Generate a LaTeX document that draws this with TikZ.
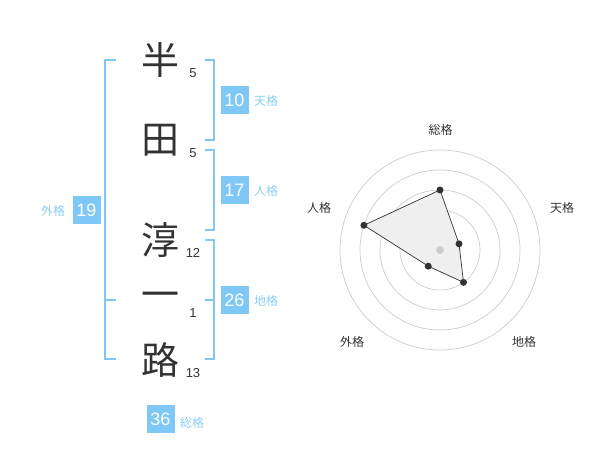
\documentclass[tikz,border=0pt]{standalone}
\usepackage{fontspec}
\usetikzlibrary{calc}
\setmainfont{Liberation Sans}
\newfontfamily\cjk{Noto Sans CJK JP}
\definecolor{brk}{HTML}{7FC7F7}
\definecolor{lbl}{HTML}{8ACFF5}
\definecolor{ink}{HTML}{333333}
\definecolor{grid}{HTML}{CCCCCC}
\definecolor{area}{HTML}{EFEFEF}
\begin{document}
\begin{tikzpicture}[x=1pt,y=-1pt,
 kanji/.style={font=\cjk\fontsize{38}{38}\selectfont, text=ink, inner sep=0},
 strokes/.style={font=\fontsize{13}{13}\selectfont, text=ink, inner sep=0},
 valbox/.style={fill=brk, text=white, minimum size=28pt, inner sep=0, font=\fontsize{18}{18}\selectfont},
 kaku/.style={font=\cjk\fontsize{12}{12}\selectfont, text=lbl, inner sep=0},
 bracket/.style={draw=brk, line width=2pt, line join=miter},
 ring/.style={draw=grid, line width=0.7pt},
 axislbl/.style={font=\cjk\fontsize{12}{12}\selectfont, text=ink, inner sep=0},
 dot/.style={circle, fill=ink, minimum size=7pt, inner sep=0},
 cdot/.style={circle, fill=grid, minimum size=8pt, inner sep=0},
 poly/.style={draw=ink, line width=0.7pt, fill=area},
]
\useasboundingbox (0,0) rectangle (600,470);
% name characters
\node[kanji] (c1) at (160,60) {半};
\node[kanji] (c2) at (160,140) {田};
\node[kanji] (c3) at (160,240) {淳};
\node[kanji] (c4) at (160,300) {一};
\node[kanji] (c5) at (160,360) {路};
\node[strokes] (s1) at (193,73) {5};
\node[strokes] (s2) at (193,153) {5};
\node[strokes] (s3) at (193,253) {12};
\node[strokes] (s4) at (193,313) {1};
\node[strokes] (s5) at (193,373) {13};
% brackets
\draw[bracket] (116,60) -- (105,60) -- (105,359) -- (116,359);
\draw[bracket] (105,300) -- (116,300);
\draw[bracket] (205,60) -- (214,60) -- (214,140) -- (205,140);
\draw[bracket] (205,150) -- (214,150) -- (214,230) -- (205,230);
\draw[bracket] (205,240) -- (214,240) -- (214,359) -- (205,359);
\draw[bracket] (205,300) -- (214,300);
% values
\node[valbox] (ten) at (234.5,100) {10};
\node[kaku] (tenl) at (266,101) {天格};
\node[valbox] (jin) at (234.5,190) {17};
\node[kaku] (jinl) at (266,191) {人格};
\node[valbox] (chi) at (234.5,300) {26};
\node[kaku] (chil) at (266,301) {地格};
\node[valbox] (gai) at (86.5,210) {19};
\node[kaku] (gail) at (53,211) {外格};
\node[valbox] (sou) at (160.5,419) {36};
\node[kaku] (soul) at (192,423) {総格};
% radar
\coordinate (o) at (440,250);
\foreach \r in {20,40,60,80,100} \draw[ring] (o) circle[radius=\r];
\coordinate (pS) at ($(o)+(-90:60)$);
\coordinate (pT) at ($(o)+(-18:20)$);
\coordinate (pC) at ($(o)+(54:40)$);
\coordinate (pG) at ($(o)+(126:20)$);
\coordinate (pJ) at ($(o)+(198:80)$);
\draw[poly] (pS) -- (pT) -- (pC) -- (pG) -- (pJ) -- cycle;
\node[cdot] (oc) at (o) {};
\foreach \p in {pS,pT,pC,pG,pJ} \node[dot] at (\p) {};
\node[axislbl] (aS) at (440.7,130) {総格};
\node[axislbl] (aT) at (562,208) {天格};
\node[axislbl] (aJ) at (319,208) {人格};
\node[axislbl] (aG) at (352,342) {外格};
\node[axislbl] (aC) at (524,342) {地格};
\end{tikzpicture}
\end{document}
